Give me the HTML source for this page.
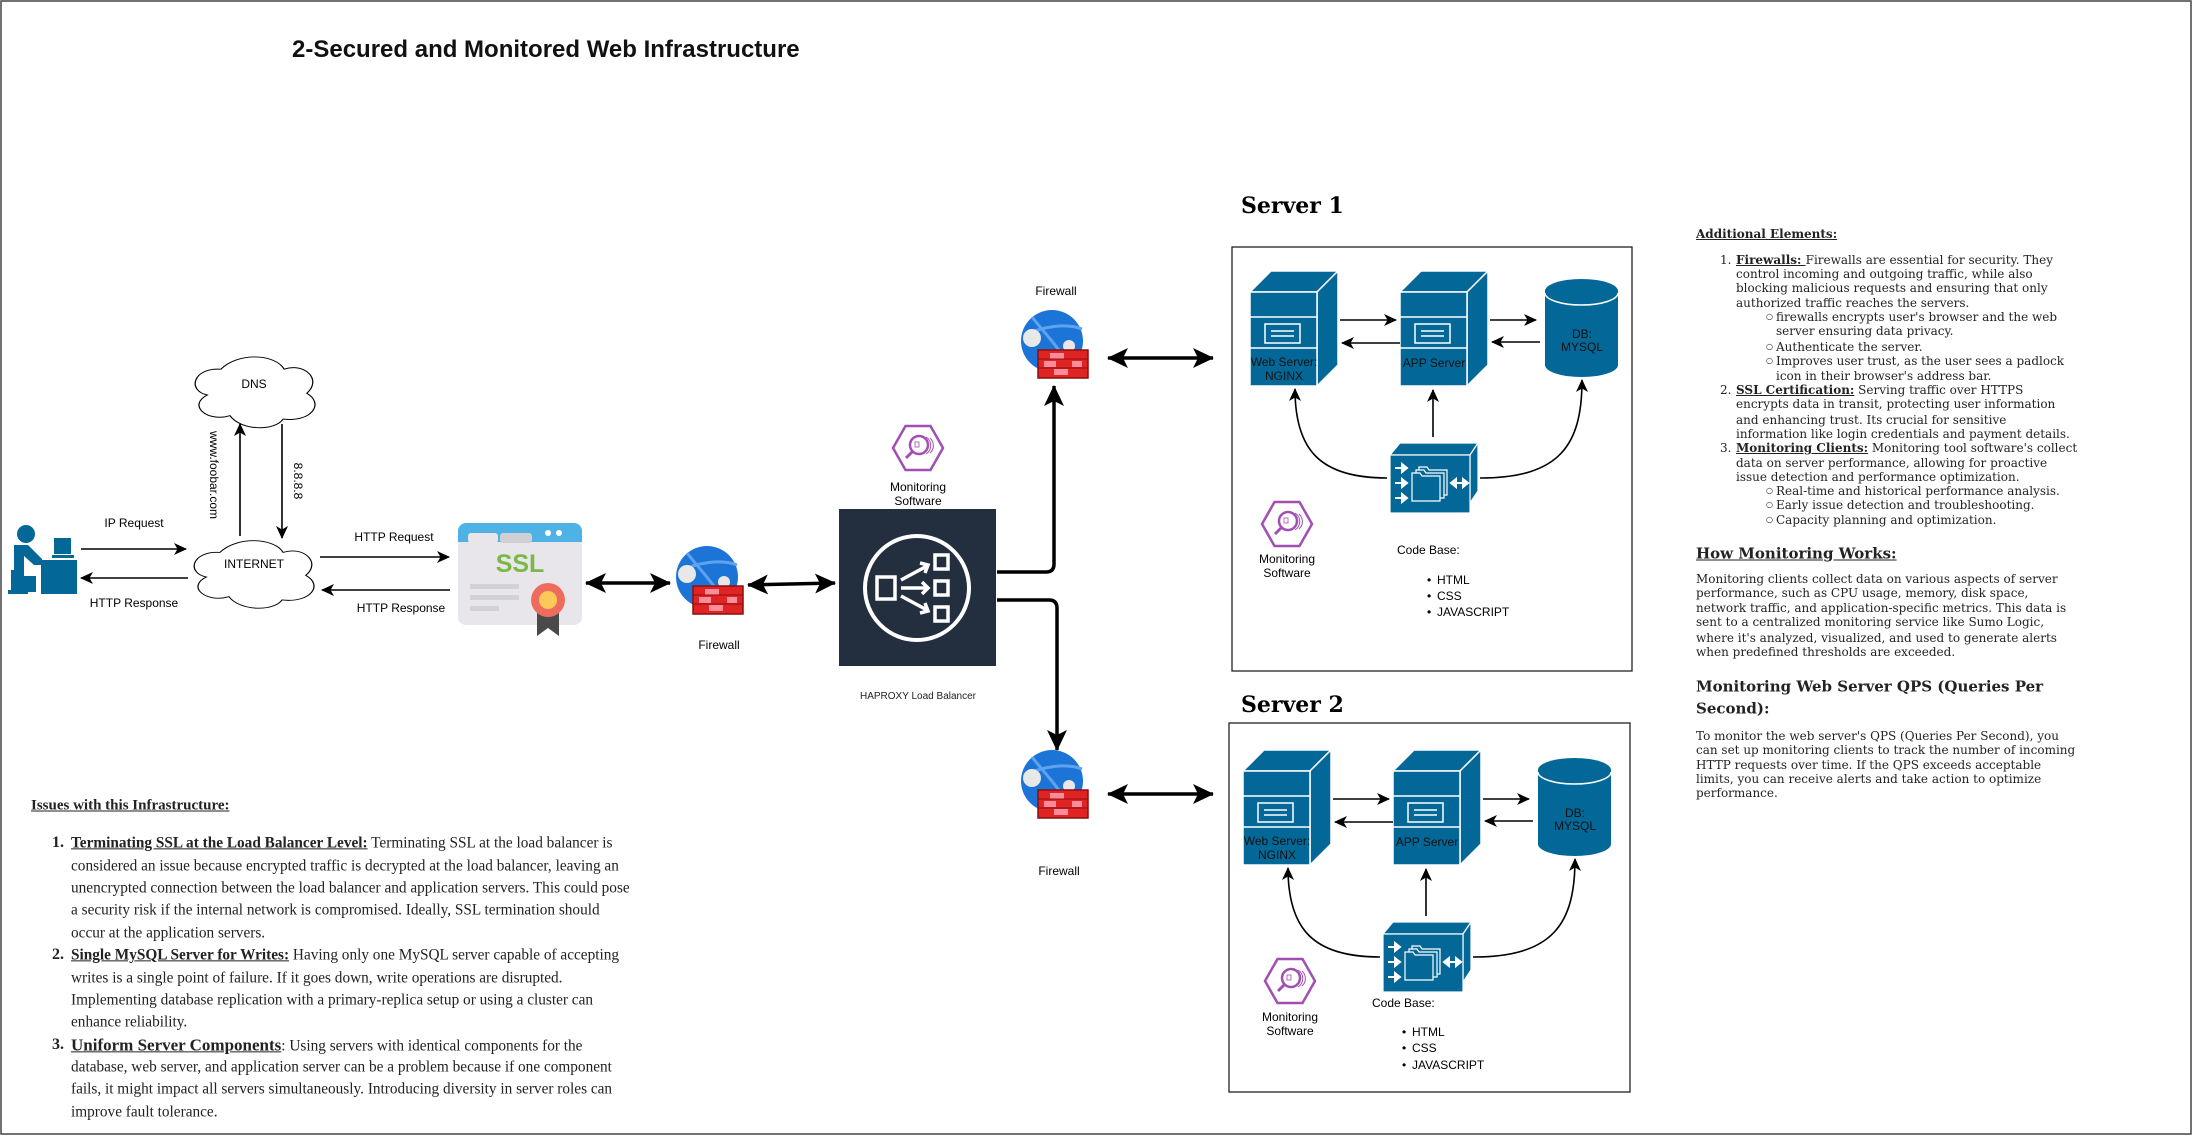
<!DOCTYPE html>
<html><head><meta charset="utf-8"><style>
html,body{margin:0;padding:0;background:#fff}
body{width:2193px;height:1139px;position:relative;overflow:hidden}
.l{position:absolute;white-space:nowrap;transform:translateY(-50%);line-height:1}
.is{font-family:"Liberation Serif",serif;font-size:15.3px;color:#222}
.rt{font-family:"DejaVu Serif",serif;font-size:12px;color:#222}
u{text-decoration:underline}
</style></head><body>
<svg width="2193" height="1139" style="position:absolute;left:0;top:0" font-family="Liberation Sans, sans-serif">
<defs>
<marker id="s" markerUnits="userSpaceOnUse" markerWidth="14" markerHeight="12" refX="12" refY="6" orient="auto-start-reverse"><path d="M0,0 L13,6 L0,12 L3.5,6 z" fill="#000"/></marker>
<marker id="b" markerUnits="userSpaceOnUse" markerWidth="22" markerHeight="20" refX="20" refY="10" orient="auto-start-reverse"><path d="M0,0 L21,10 L0,20 L5,10 z" fill="#000"/></marker>
<g id="srv">
<path d="M0,21 L21,0 L88,0 L67,21 Z" fill="#036897" stroke="#fff" stroke-width="1.5"/>
<path d="M67,21 L88,0 L88,94 L67,115 Z" fill="#036897" stroke="#fff" stroke-width="1.5"/>
<rect x="0" y="21" width="67" height="94" fill="#036897" stroke="#fff" stroke-width="1.5"/>
<line x1="0" y1="46" x2="67" y2="46" stroke="#fff" stroke-width="1.5"/>
<line x1="0" y1="77" x2="67" y2="77" stroke="#fff" stroke-width="1.5"/>
<rect x="15" y="53" width="35" height="19" fill="none" stroke="#fff" stroke-width="1.5"/>
<line x1="21" y1="60" x2="44" y2="60" stroke="#fff" stroke-width="1.5"/>
<line x1="21" y1="65" x2="44" y2="65" stroke="#fff" stroke-width="1.5"/>
</g>
<g id="db">
<path d="M0,12 L0,86 A36.5,12 0 0 0 73,86 L73,12 Z" fill="#036897"/>
<ellipse cx="36.5" cy="12" rx="36.5" ry="12" fill="#036897"/>
<path d="M0,14 A36.5,12 0 0 0 73,14" fill="none" stroke="#fff" stroke-width="1.5"/>
</g>
<g id="cb">
<path d="M0,12 L10,0 L88,0 L80,12 Z" fill="#036897" stroke="#fff" stroke-width="1.2"/>
<path d="M80,12 L88,0 L88,48 L80,60 Z" fill="#036897" stroke="#fff" stroke-width="1.2"/>
<rect x="0" y="12" width="80" height="58" fill="#036897" stroke="#fff" stroke-width="1.2"/>
<g stroke="#fff" stroke-width="2" fill="#fff">
<path d="M5,25 L14,25" /><path d="M12,21 L17,25 L12,29Z"/>
<path d="M5,40 L14,40" /><path d="M12,36 L17,40 L12,44Z"/>
<path d="M5,55 L14,55" /><path d="M12,51 L17,55 L12,59Z"/>
<path d="M63,40 L76,40"/><path d="M66,36 L61,40 L66,44Z"/><path d="M73,36 L78,40 L73,44Z"/>
</g>
<g fill="none" stroke="#fff" stroke-width="1.2">
<path d="M29,24 h8 l2,3 h18 v25 h-28z"/>
<path d="M26,27 h8 l2,3 h18 v25 h-28z" fill="#036897"/>
<path d="M22,30 h8 l2,3 h18 v25 h-28z" fill="#036897"/>
</g>
</g>
<g id="mon">
<polygon points="-25,0 -12.5,-22 12.5,-22 25,0 12.5,22 -12.5,22" fill="none" stroke="#a14fb0" stroke-width="2.5"/>
<circle cx="1" cy="-3" r="9" fill="none" stroke="#a14fb0" stroke-width="2.5"/>
<line x1="-5" y1="3" x2="-12" y2="10" stroke="#a14fb0" stroke-width="3"/>
<path d="M8,-11 A10,10 0 0 1 8,6" fill="none" stroke="#a14fb0" stroke-width="1"/>
<path d="M12,-10 A10,10 0 0 1 12,5" fill="none" stroke="#a14fb0" stroke-width="1"/>
<rect x="-3" y="-6" width="4" height="5" fill="none" stroke="#a14fb0" stroke-width="0.8"/>
</g>
<g id="fw">
<circle cx="0" cy="0" r="31" fill="#1c75d6"/>
<path d="M-20,-24 C-5,-5 10,10 18,27" fill="none" stroke="#5ea3f0" stroke-width="3"/>
<path d="M-28,-5 C-10,-15 15,-18 30,-12" fill="none" stroke="#5ea3f0" stroke-width="3"/>
<circle cx="-20" cy="-3" r="9" fill="#e8e8e8"/>
<circle cx="17" cy="5" r="6" fill="#e8e8e8"/>
<rect x="-14" y="9" width="50" height="28" fill="#e02323" stroke="#8a0f0f" stroke-width="1.5"/>
<g fill="#ff8a9a"><rect x="-2" y="12" width="14" height="6"/><rect x="-8" y="20" width="12" height="6"/><rect x="20" y="20" width="10" height="6"/><rect x="2" y="28" width="14" height="6"/></g>
<g stroke="#8a0f0f" stroke-width="1"><line x1="-14" y1="18" x2="36" y2="18"/><line x1="-14" y1="27" x2="36" y2="27"/></g>
</g>
<path id="cloud" d="M30,20 C5,18 0,45 18,50 C0,62 18,82 38,74 C48,92 78,92 85,78 C110,82 122,60 106,48 C120,32 104,12 86,20 C78,2 45,0 30,20 Z"/>
</defs>

<rect x="1" y="1" width="2190" height="1133" fill="none" stroke="#444" stroke-width="1.5"/>

<text x="292" y="57" font-size="24" font-weight="bold" fill="#111">2-Secured and Monitored Web Infrastructure</text>

<g fill="#036897">
<circle cx="26" cy="534" r="9"/>
<path d="M14,545 h14 l14,14 v6 h-8 l-10,-9 v20 h12 v16 h-22 z"/>
<rect x="11" y="570" width="4" height="24"/>
<rect x="8" y="590" width="20" height="4"/>
<rect x="41" y="560" width="36" height="34"/>
<rect x="54" y="538" width="17" height="16"/>
<rect x="52" y="555" width="22" height="3"/>
</g>

<use href="#cloud" transform="translate(187,352) scale(1.13,0.86)" fill="#fff" stroke="#000" stroke-width="1.1"/>
<use href="#cloud" transform="translate(186,536) scale(1.13,0.82)" fill="#fff" stroke="#000" stroke-width="1.1"/>
<text x="254" y="388" font-size="12" text-anchor="middle">DNS</text>
<text x="254" y="568" font-size="12" text-anchor="middle">INTERNET</text>

<g stroke="#000" stroke-width="1.6" fill="none">
<line x1="81" y1="549" x2="186" y2="549" marker-end="url(#s)"/>
<line x1="188" y1="578" x2="81" y2="578" marker-end="url(#s)"/>
<line x1="240" y1="536" x2="240" y2="424" marker-end="url(#s)"/>
<line x1="282" y1="424" x2="282" y2="538" marker-end="url(#s)"/>
<line x1="320" y1="557" x2="449" y2="557" marker-end="url(#s)"/>
<line x1="450" y1="590" x2="322" y2="590" marker-end="url(#s)"/>
</g>
<text x="134" y="527" font-size="12" text-anchor="middle">IP Request</text>
<text x="134" y="607" font-size="12" text-anchor="middle">HTTP Response</text>
<text x="394" y="541" font-size="12" text-anchor="middle">HTTP Request</text>
<text x="401" y="612" font-size="12" text-anchor="middle">HTTP Response</text>
<text transform="translate(210,475) rotate(90)" font-size="12" text-anchor="middle">www.foobar.com</text>
<text transform="translate(294,481) rotate(90)" font-size="12" text-anchor="middle">8.8.8.8</text>

<rect x="458" y="523" width="124" height="102" rx="8" fill="#e8e6ea"/>
<path d="M458,540 V531 a8,8 0 0 1 8,-8 h108 a8,8 0 0 1 8,8 V542 H458Z" fill="#4fb2e4"/>
<rect x="468" y="533" width="30" height="10" rx="3" fill="#e8e6ea"/>
<rect x="500" y="533" width="32" height="10" rx="3" fill="#d0d0d4"/>
<circle cx="548" cy="533" r="3" fill="#fff"/><circle cx="559" cy="533" r="3" fill="#fff"/>
<text x="520" y="572" font-size="25" font-weight="bold" fill="#78b947" text-anchor="middle">SSL</text>
<rect x="470" y="584" width="49" height="5" fill="#d2d2d4"/>
<rect x="470" y="595" width="49" height="5" fill="#d2d2d4"/>
<rect x="470" y="606" width="29" height="5" fill="#d2d2d4"/>
<path d="M537,606 L537,636 L548,628 L559,636 L559,606Z" fill="#4a4a4a"/>
<circle cx="548" cy="600" r="17" fill="#ee6c5e"/>
<circle cx="548" cy="600" r="9" fill="#fcc85a"/>

<g stroke="#000" stroke-width="3.5" fill="none">
<line x1="586" y1="583" x2="670" y2="583" marker-start="url(#b)" marker-end="url(#b)"/>
<line x1="748" y1="585" x2="835" y2="583" marker-start="url(#b)" marker-end="url(#b)"/>
<line x1="1108" y1="358" x2="1213" y2="358" marker-start="url(#b)" marker-end="url(#b)"/>
<line x1="1108" y1="794" x2="1213" y2="794" marker-start="url(#b)" marker-end="url(#b)"/>
<path d="M997,572 H1046 Q1054,572 1054,564 V386" marker-end="url(#b)"/>
<path d="M997,600 H1049 Q1057,600 1057,608 V750" marker-end="url(#b)"/>
</g>

<use href="#fw" transform="translate(707,577)"/>
<text x="719" y="649" font-size="12" text-anchor="middle">Firewall</text>
<use href="#fw" transform="translate(1052,341)"/>
<text x="1056" y="295" font-size="12" text-anchor="middle">Firewall</text>
<use href="#fw" transform="translate(1052,781)"/>
<text x="1059" y="875" font-size="12" text-anchor="middle">Firewall</text>

<rect x="839" y="509" width="157" height="157" fill="#232f3e"/>
<circle cx="917" cy="588" r="52" fill="none" stroke="#fff" stroke-width="4"/>
<g stroke="#fff" stroke-width="3.5" fill="none">
<rect x="877" y="577" width="18" height="22"/>
<rect x="935" y="555" width="13" height="14"/>
<rect x="935" y="581" width="13" height="14"/>
<rect x="935" y="607" width="13" height="14"/>
<path d="M901,580 L927,566"/><path d="M901,588 L927,588"/><path d="M901,596 L927,610"/>
<path d="M920,563 L928,565 L925,573"/><path d="M922,582 L928,588 L922,594"/><path d="M925,603 L928,611 L920,613"/>
</g>
<use href="#mon" transform="translate(918,448)"/>
<text x="918" y="491" font-size="12" text-anchor="middle">Monitoring</text>
<text x="918" y="505" font-size="12" text-anchor="middle">Software</text>
<text x="918" y="699" font-size="10" text-anchor="middle" fill="#222">HAPROXY Load Balancer</text>

<text x="1241" y="213" font-size="22" font-weight="bold" font-family="DejaVu Serif, serif">Server 1</text>
<rect x="1232" y="247" width="400" height="424" fill="none" stroke="#222" stroke-width="1.3"/>
<g id="core">
<use href="#srv" transform="translate(1250,271)"/>
<use href="#srv" transform="translate(1400,271)"/>
<use href="#db" transform="translate(1545,279)"/>
<use href="#cb" transform="translate(1390,443)"/>
<g font-size="12" text-anchor="middle" fill="#111">
<text x="1284" y="366">Web Server:</text><text x="1284" y="380">NGINX</text>
<text x="1434" y="367">APP Server</text>
<text x="1582" y="338">DB:</text><text x="1582" y="351">MYSQL</text>
</g>
<g stroke="#000" stroke-width="1.6" fill="none">
<line x1="1340" y1="320" x2="1396" y2="320" marker-end="url(#s)"/>
<line x1="1400" y1="343" x2="1342" y2="343" marker-end="url(#s)"/>
<line x1="1490" y1="320" x2="1536" y2="320" marker-end="url(#s)"/>
<line x1="1540" y1="342" x2="1492" y2="342" marker-end="url(#s)"/>
<path d="M1387,478 C1320,478 1295,450 1295,389" marker-end="url(#s)"/>
<line x1="1433" y1="437" x2="1433" y2="390" marker-end="url(#s)"/>
<path d="M1480,478 C1560,478 1582,445 1582,380" marker-end="url(#s)"/>
</g>
</g>
<use href="#mon" transform="translate(1287,524)"/>
<text x="1287" y="563" font-size="12" text-anchor="middle">Monitoring</text>
<text x="1287" y="577" font-size="12" text-anchor="middle">Software</text>
<text x="1397" y="554" font-size="12">Code Base:</text>
<g font-size="12"><text x="1427" y="584">•</text><text x="1437" y="584">HTML</text>
<text x="1427" y="600">•</text><text x="1437" y="600">CSS</text>
<text x="1427" y="616">•</text><text x="1437" y="616">JAVASCRIPT</text></g>

<text x="1241" y="712" font-size="22" font-weight="bold" font-family="DejaVu Serif, serif">Server 2</text>
<rect x="1229" y="723" width="401" height="369" fill="none" stroke="#222" stroke-width="1.3"/>
<use href="#core" transform="translate(-7,479)"/>
<use href="#mon" transform="translate(1290,981)"/>
<text x="1290" y="1021" font-size="12" text-anchor="middle">Monitoring</text>
<text x="1290" y="1035" font-size="12" text-anchor="middle">Software</text>
<text x="1372" y="1007" font-size="12">Code Base:</text>
<g font-size="12"><text x="1402" y="1036">•</text><text x="1412" y="1036">HTML</text>
<text x="1402" y="1052">•</text><text x="1412" y="1052">CSS</text>
<text x="1402" y="1069">•</text><text x="1412" y="1069">JAVASCRIPT</text></g>
</svg>

<div class="l is" style="left:31px;top:806px;font-size:15px;font-weight:bold"><u>Issues with this Infrastructure:</u></div>
<div class="l is" style="left:52px;top:843px;font-weight:bold;font-size:16px">1.</div>
<div class="l is" style="left:71px;top:843px"><b><u>Terminating SSL at the Load Balancer Level:</u></b> Terminating SSL at the load balancer is</div>
<div class="l is" style="left:71px;top:866px">considered an issue because encrypted traffic is decrypted at the load balancer, leaving an</div>
<div class="l is" style="left:71px;top:888px">unencrypted connection between the load balancer and application servers. This could pose</div>
<div class="l is" style="left:71px;top:910px">a security risk if the internal network is compromised. Ideally, SSL termination should</div>
<div class="l is" style="left:71px;top:933px">occur at the application servers.</div>
<div class="l is" style="left:52px;top:955px;font-weight:bold;font-size:16px">2.</div>
<div class="l is" style="left:71px;top:955px"><b><u>Single MySQL Server for Writes:</u></b> Having only one MySQL server capable of accepting</div>
<div class="l is" style="left:71px;top:978px">writes is a single point of failure. If it goes down, write operations are disrupted.</div>
<div class="l is" style="left:71px;top:1000px">Implementing database replication with a primary-replica setup or using a cluster can</div>
<div class="l is" style="left:71px;top:1022px">enhance reliability.</div>
<div class="l is" style="left:52px;top:1045px;font-weight:bold;font-size:16px">3.</div>
<div class="l is" style="left:71px;top:1045px"><b style="font-size:17px"><u>Uniform Server Components</u></b>: Using servers with identical components for the</div>
<div class="l is" style="left:71px;top:1067px">database, web server, and application server can be a problem because if one component</div>
<div class="l is" style="left:71px;top:1089px">fails, it might impact all servers simultaneously. Introducing diversity in server roles can</div>
<div class="l is" style="left:71px;top:1112px">improve fault tolerance.</div>

<div class="l rt" style="left:1696px;top:234px;font-weight:bold"><u>Additional Elements:</u></div>
<div class="l rt" style="left:1720px;top:260px">1.</div>
<div class="l rt" style="left:1736px;top:260px"><b><u>Firewalls: </u></b> Firewalls are essential for security. They</div>
<div class="l rt" style="left:1736px;top:274px">control incoming and outgoing traffic, while also</div>
<div class="l rt" style="left:1736px;top:288px">blocking malicious requests and ensuring that only</div>
<div class="l rt" style="left:1736px;top:303px">authorized traffic reaches the servers.</div>
<div class="l rt" style="left:1766px;top:317px;font-size:8px">○</div>
<div class="l rt" style="left:1776px;top:317px">firewalls encrypts user's browser and the web</div>
<div class="l rt" style="left:1776px;top:331px">server ensuring data privacy.</div>
<div class="l rt" style="left:1766px;top:347px;font-size:8px">○</div>
<div class="l rt" style="left:1776px;top:347px">Authenticate the server.</div>
<div class="l rt" style="left:1766px;top:361px;font-size:8px">○</div>
<div class="l rt" style="left:1776px;top:361px">Improves user trust, as the user sees a padlock</div>
<div class="l rt" style="left:1776px;top:376px">icon in their browser's address bar.</div>
<div class="l rt" style="left:1720px;top:390px">2.</div>
<div class="l rt" style="left:1736px;top:390px"><b><u>SSL Certification:</u></b> Serving traffic over HTTPS</div>
<div class="l rt" style="left:1736px;top:404px">encrypts data in transit, protecting user information</div>
<div class="l rt" style="left:1736px;top:420px">and enhancing trust. Its crucial for sensitive</div>
<div class="l rt" style="left:1736px;top:434px">information like login credentials and payment details.</div>
<div class="l rt" style="left:1720px;top:448px">3.</div>
<div class="l rt" style="left:1736px;top:448px"><b><u>Monitoring Clients:</u></b> Monitoring tool software's collect</div>
<div class="l rt" style="left:1736px;top:463px">data on server performance, allowing for proactive</div>
<div class="l rt" style="left:1736px;top:477px">issue detection and performance optimization.</div>
<div class="l rt" style="left:1766px;top:491px;font-size:8px">○</div>
<div class="l rt" style="left:1776px;top:491px">Real-time and historical performance analysis.</div>
<div class="l rt" style="left:1766px;top:505px;font-size:8px">○</div>
<div class="l rt" style="left:1776px;top:505px">Early issue detection and troubleshooting.</div>
<div class="l rt" style="left:1766px;top:520px;font-size:8px">○</div>
<div class="l rt" style="left:1776px;top:520px">Capacity planning and optimization.</div>
<div class="l rt" style="left:1696px;top:554px;font-weight:bold;font-size:15px"><u>How Monitoring Works:</u></div>
<div class="l rt" style="left:1696px;top:579px">Monitoring clients collect data on various aspects of server</div>
<div class="l rt" style="left:1696px;top:593px">performance, such as CPU usage, memory, disk space,</div>
<div class="l rt" style="left:1696px;top:608px">network traffic, and application-specific metrics. This data is</div>
<div class="l rt" style="left:1696px;top:622px">sent to a centralized monitoring service like Sumo Logic,</div>
<div class="l rt" style="left:1696px;top:638px">where it's analyzed, visualized, and used to generate alerts</div>
<div class="l rt" style="left:1696px;top:652px">when predefined thresholds are exceeded.</div>
<div class="l rt" style="left:1696px;top:687px;font-weight:bold;font-size:15px">Monitoring Web Server QPS (Queries Per</div>
<div class="l rt" style="left:1696px;top:709px;font-weight:bold;font-size:15px">Second):</div>
<div class="l rt" style="left:1696px;top:736px">To monitor the web server's QPS (Queries Per Second), you</div>
<div class="l rt" style="left:1696px;top:750px">can set up monitoring clients to track the number of incoming</div>
<div class="l rt" style="left:1696px;top:765px">HTTP requests over time. If the QPS exceeds acceptable</div>
<div class="l rt" style="left:1696px;top:779px">limits, you can receive alerts and take action to optimize</div>
<div class="l rt" style="left:1696px;top:793px">performance.</div>
</body></html>
